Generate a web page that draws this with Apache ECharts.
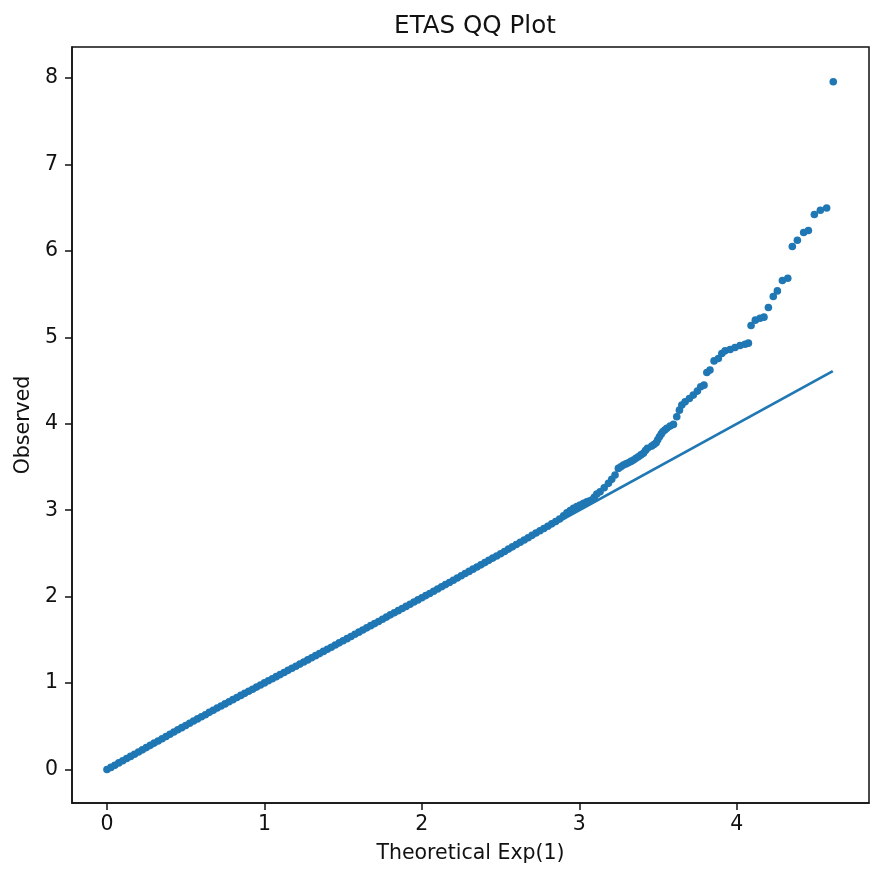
<!DOCTYPE html>
<html>
<head>
<meta charset="utf-8">
<title>ETAS QQ Plot</title>
<script src="https://cdn.jsdelivr.net/npm/echarts@6/dist/echarts.min.js"></script>
<style>
    html, body { margin: 0; padding: 0; background: #fff; }
    #chart { width: 884px; height: 884px; }
</style>
</head>
<body>
<div id="chart"></div>
<script>
/*data*/
var theoretical = [
    0.000, 0.025, 0.050, 0.075, 0.100, 0.125, 0.150, 0.175, 0.200, 0.225,
    0.250, 0.275, 0.300, 0.325, 0.350, 0.375, 0.400, 0.425, 0.450, 0.475,
    0.500, 0.525, 0.550, 0.575, 0.600, 0.625, 0.650, 0.675, 0.700, 0.725,
    0.750, 0.775, 0.800, 0.825, 0.850, 0.875, 0.900, 0.925, 0.950, 0.975,
    1.000, 1.025, 1.050, 1.075, 1.100, 1.125, 1.150, 1.175, 1.200, 1.225,
    1.250, 1.275, 1.300, 1.325, 1.350, 1.375, 1.400, 1.425, 1.450, 1.475,
    1.500, 1.525, 1.550, 1.575, 1.600, 1.625, 1.650, 1.675, 1.700, 1.725,
    1.750, 1.775, 1.800, 1.825, 1.850, 1.875, 1.900, 1.925, 1.950, 1.975,
    2.000, 2.025, 2.050, 2.075, 2.100, 2.125, 2.150, 2.175, 2.200, 2.225,
    2.250, 2.275, 2.300, 2.325, 2.350, 2.375, 2.400, 2.425, 2.450, 2.475,
    2.500, 2.525, 2.550, 2.575, 2.600, 2.625, 2.650, 2.675, 2.700, 2.725,
    2.750, 2.775, 2.800, 2.825, 2.850, 2.875, 2.900,
    2.921, 2.942, 2.963, 2.984, 3.005, 3.027, 3.048, 3.064, 3.079, 3.095,
    3.111, 3.132, 3.158, 3.185, 3.206,
    3.227, 3.248, 3.264, 3.280, 3.296, 3.312, 3.328, 3.344, 3.360, 3.375,
    3.391, 3.407, 3.420, 3.433, 3.460, 3.474, 3.488, 3.498, 3.509, 3.520,
    3.530, 3.543, 3.556, 3.577, 3.598, 3.619, 3.636, 3.651, 3.672, 3.699,
    3.724, 3.750, 3.771, 3.792, 3.810, 3.830, 3.856, 3.883, 3.905, 3.926,
    3.958, 3.989, 4.021, 4.053, 4.074, 4.091, 4.118, 4.148, 4.173, 4.201,
    4.232, 4.258, 4.290, 4.324, 4.353, 4.385, 4.425, 4.455, 4.493, 4.531,
    4.571, 4.613
];

var observed = [
    0.000, 0.024, 0.049, 0.076, 0.101, 0.127, 0.151, 0.176, 0.203, 0.227,
    0.253, 0.279, 0.305, 0.330, 0.356, 0.381, 0.408, 0.433, 0.459, 0.484,
    0.509, 0.534, 0.560, 0.585, 0.610, 0.634, 0.661, 0.686, 0.711, 0.735,
    0.759, 0.784, 0.808, 0.832, 0.857, 0.881, 0.905, 0.929, 0.953, 0.978,
    1.002, 1.026, 1.050, 1.074, 1.098, 1.122, 1.147, 1.171, 1.195, 1.219,
    1.244, 1.268, 1.292, 1.317, 1.341, 1.366, 1.391, 1.415, 1.440, 1.465,
    1.490, 1.514, 1.539, 1.564, 1.589, 1.614, 1.639, 1.664, 1.688, 1.713,
    1.738, 1.763, 1.789, 1.814, 1.838, 1.863, 1.887, 1.912, 1.938, 1.962,
    1.987, 2.012, 2.037, 2.063, 2.089, 2.114, 2.139, 2.164, 2.190, 2.216,
    2.242, 2.267, 2.292, 2.318, 2.343, 2.368, 2.394, 2.420, 2.446, 2.471,
    2.497, 2.523, 2.550, 2.576, 2.603, 2.629, 2.655, 2.682, 2.709, 2.736,
    2.762, 2.789, 2.815, 2.842, 2.870, 2.898, 2.935,
    2.971, 2.996, 3.022, 3.041, 3.060, 3.080, 3.098, 3.106, 3.118, 3.150,
    3.187, 3.214, 3.260, 3.311, 3.357,
    3.407, 3.484, 3.503, 3.522, 3.536, 3.549, 3.565, 3.580, 3.600, 3.619,
    3.640, 3.658, 3.690, 3.716, 3.742, 3.760, 3.781, 3.815, 3.850, 3.880,
    3.908, 3.928, 3.947, 3.973, 3.993, 4.081, 4.158, 4.216, 4.254, 4.293,
    4.332, 4.378, 4.428, 4.447, 4.594, 4.621, 4.728, 4.756, 4.814, 4.844,
    4.860, 4.883, 4.906, 4.921, 4.933, 5.138, 5.199, 5.222, 5.234, 5.346,
    5.473, 5.538, 5.658, 5.684, 6.051, 6.124, 6.213, 6.236, 6.421, 6.471,
    6.497, 7.958
];

// reference line y = x
var refLineX = [0, 4.61];
var refLineY = [0, 4.61];

var xTicks = [0, 1, 2, 3, 4];
var yTicks = [0, 1, 2, 3, 4, 5, 6, 7, 8];

var BLUE = '#1f77b4';
var INK = '#111111';
var FONT = 'DejaVu Sans';

function pairs(xs, ys){
    var out = [];
    for(var i = 0; i < xs.length; i++){
        out.push([xs[i], ys[i]]);
    }
    return out;
}

function axisBase(ticks, min, max){
    return {
        type: 'value',
        min: min,
        max: max,
        splitLine: {show: false},
        axisLine: {show: true, onZero: false, lineStyle: {color: INK, width: 1.5}},
        axisTick: {show: true, length: 7, customValues: ticks, lineStyle: {color: INK, width: 1.5}},
        axisLabel: {customValues: ticks, fontFamily: FONT, fontSize: 20.5, color: INK},
        nameTextStyle: {fontFamily: FONT, fontSize: 20.5, color: INK}
    };
}

var xAxis = axisBase(xTicks, -0.222, 4.84);
xAxis.name = 'Theoretical Exp(1)';
xAxis.nameLocation = 'middle';
xAxis.nameGap = 40;
xAxis.axisLabel.margin = 11;

var yAxis = axisBase(yTicks, -0.388, 8.36);
yAxis.name = 'Observed';
yAxis.nameLocation = 'middle';
yAxis.nameRotate = 90;
yAxis.nameGap = 38;
yAxis.axisLabel.margin = 14;

var chart = echarts.init(document.getElementById('chart'));
chart.setOption({
    animation: false,
    backgroundColor: '#fff',
    title: {
        text: 'ETAS QQ Plot',
        left: 470,
        top: 9,
        textAlign: 'center',
        textStyle: {fontFamily: FONT, fontSize: 24.6, fontWeight: 'normal', color: INK}
    },
    grid: {
        left: 72, right: 15, top: 47, bottom: 81,
        show: true, borderColor: INK, borderWidth: 1.5, backgroundColor: 'transparent'
    },
    xAxis: xAxis,
    yAxis: yAxis,
    series: [
        {
            type: 'scatter',
            data: pairs(theoretical, observed),
            symbolSize: 7.6,
            itemStyle: {color: BLUE, opacity: 1}
        },
        {
            type: 'line',
            data: pairs(refLineX, refLineY),
            showSymbol: false,
            lineStyle: {color: BLUE, width: 2.7}
        }
    ]
});
</script>
</body>
</html>
